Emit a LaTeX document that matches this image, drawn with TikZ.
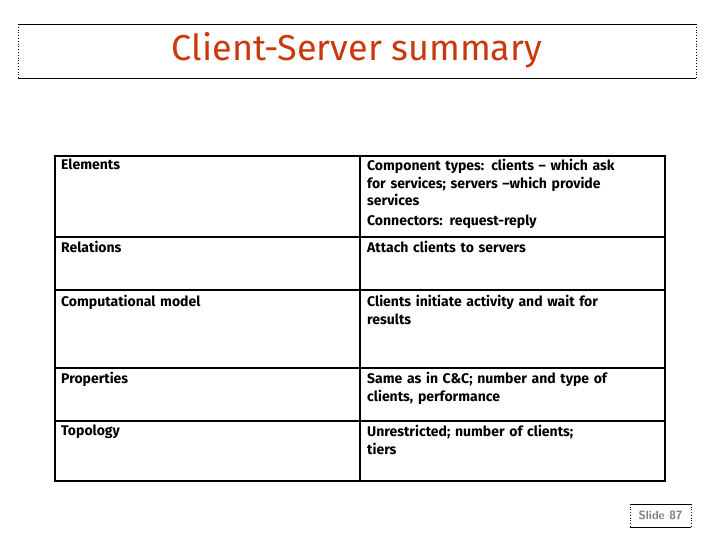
\documentclass[tikz,border=0pt]{standalone}
\usepackage{fontspec}
\setmainfont{Fira Sans}
\begin{document}
\begin{tikzpicture}[x=1pt,y=-1pt,
  cell/.style={anchor=north west,align=left,font=\fontsize{14}{17.5}\selectfont\bfseries,inner sep=0pt,text width=292pt},
  grid/.style={line width=1.5pt}]
\useasboundingbox (0,0) rectangle (720,540);
\definecolor{tred}{HTML}{C83A0E}
\node (title) at (357,50) {\fontsize{36}{40}\selectfont\color{tred}Client-Server summary};
\draw[line width=0.8pt] (18,24) -- (696,24) (18,78) -- (696,78);
\draw[dotted,line width=0.8pt] (18,24) -- (18,78) (696,24) -- (696,78);
\draw[grid] (55,156) rectangle (665,481);
\draw[grid] (360,156) -- (360,481);
\foreach \y in {237,290,368,421} \draw[grid] (55,\y) -- (665,\y);
\node[cell] (l1) at (61,159) {Elements};
\node[cell] (r1) at (367,159) {Component types: clients – which ask\\for services; servers –which provide\\services\\[2pt]Connectors: request-reply};
\node[cell] (l2) at (61,241) {Relations};
\node[cell] (r2) at (367,241) {Attach clients to servers};
\node[cell] (l3) at (61,295) {Computational model};
\node[cell] (r3) at (367,295) {Clients initiate activity and wait for\\results};
\node[cell] (l4) at (61,372) {Properties};
\node[cell] (r4) at (367,372) {Same as in C\&C; number and type of\\clients, performance};
\node[cell] (l5) at (61,425) {Topology};
\node[cell] (r5) at (367,425) {Unrestricted; number of clients;\\tiers};
\node[font=\sffamily\bfseries\fontsize{12}{14}\selectfont,text=gray] (slide) at (660.5,515.5) {Slide 87};
\draw[line width=0.7pt] (630,504) -- (691,504) (630,527) -- (691,527);
\draw[dotted,line width=0.7pt] (630,504) -- (630,527) (691,504) -- (691,527);
\end{tikzpicture}
\end{document}
